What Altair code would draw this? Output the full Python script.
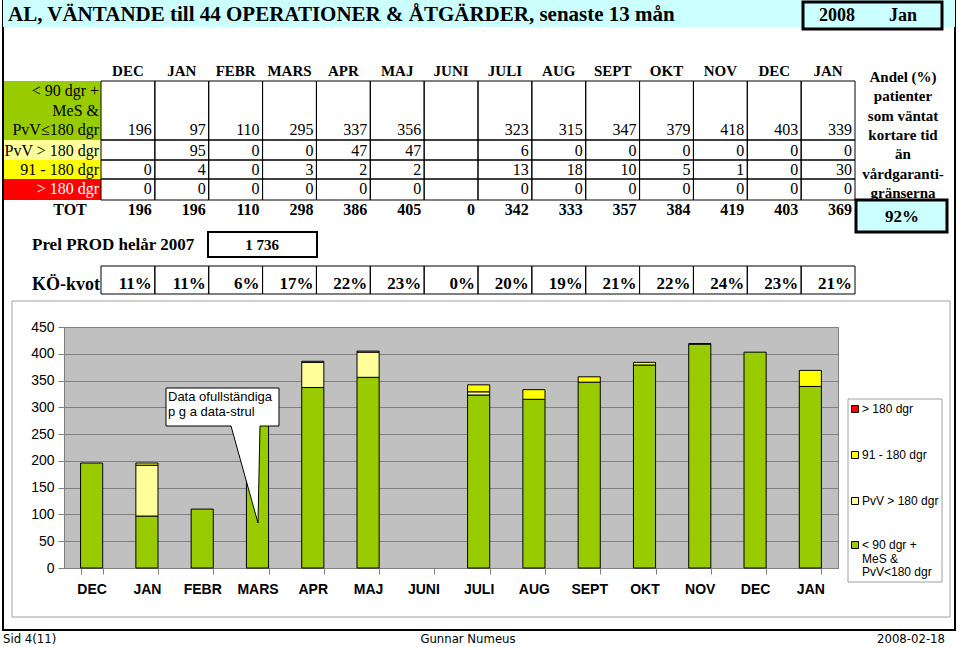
import altair as alt
import pandas as pd

# ---------------- data ----------------
months = ["DEC", "JAN", "FEBR", "MARS", "APR", "MAJ", "JUNI",
          "JULI", "AUG", "SEPT", "OKT", "NOV", "DEC", "JAN"]
# None = empty cell in the table
lt90 = [196, 97, 110, 295, 337, 356, None, 323, 315, 347, 379, 418, 403, 339]
pvv180 = [None, 95, 0, 0, 47, 47, None, 6, 0, 0, 0, 0, 0, 0]
d91_180 = [0, 4, 0, 3, 2, 2, None, 13, 18, 10, 5, 1, 0, 30]
gt180 = [0, 0, 0, 0, 0, 0, None, 0, 0, 0, 0, 0, 0, 0]
tot = [196, 196, 110, 298, 386, 405, 0, 342, 333, 357, 384, 419, 403, 369]
kvot = [11, 11, 6, 17, 22, 23, 0, 20, 19, 21, 22, 24, 23, 21]
prod_2007 = "1 736"
andel = "92%"

series_names = ["< 90 dgr + MeS & PvV<180 dgr", "PvV > 180 dgr", "91 - 180 dgr", "> 180 dgr"]
series_vals = [lt90, pvv180, d91_180, gt180]
series_colors = ["#99CC00", "#FFFF99", "#FFFF00", "#FF0000"]
CYAN = "#CCFFFF"

SERIF = "Liberation Serif, Times New Roman, serif"
SANS = "Liberation Sans, Arial, sans-serif"
NARROW = "Liberation Sans Narrow, DejaVu Sans Condensed, Liberation Sans, sans-serif"

# ---------------- layout ----------------
OX, OY = 64, 327
PW, PH = 774, 241
ONE = pd.DataFrame({"k": [0]})


def vx(x):
    return alt.value(x - OX)


def vy(y):
    return alt.value(y - OY)


def txt(s, x, y, size, weight="normal", font=SERIF, align="left", color="black", lh=None):
    kw = dict(text=s, align=align, baseline="alphabetic", fontSize=size,
              fontWeight=weight, font=font, color=color)
    if lh:
        kw["lineHeight"] = lh
    return alt.Chart(ONE).mark_text(**kw).encode(x=vx(x), y=vy(y))


def box(x0, y0, x1, y1, fill="white", fop=1, stroke="black", sw=1, sop=1):
    return alt.Chart(ONE).mark_rect(fill=fill, fillOpacity=fop, stroke=stroke,
                                    strokeWidth=sw, strokeOpacity=sop).encode(
        x=vx(x0), x2=vx(x1), y=vy(y0), y2=vy(y1))


COLS = alt.Scale(domain=[0, 14], range=[101 - OX, 855 - OX], nice=False, zero=False)
idx = list(range(14))


def cells(y0, y1, sw=1):
    d = pd.DataFrame({"i": idx, "i1": [i + 1 for i in idx]})
    return alt.Chart(d).mark_rect(fill="white", fillOpacity=0, stroke="black", strokeWidth=sw).encode(
        x=alt.X("i:Q", scale=COLS, axis=None), x2="i1:Q", y=vy(y0), y2=vy(y1))


def rowtext(strings, base, size=16, weight="normal"):
    d = pd.DataFrame({"i1": [i + 1 for i in idx], "t": strings})
    d = d[d["t"] != ""]
    return alt.Chart(d).mark_text(align="right", baseline="alphabetic", dx=-3, fontSize=size,
                                  fontWeight=weight, font=SERIF, color="black").encode(
        x=alt.X("i1:Q", scale=COLS, axis=None), y=vy(base), text="t:N")


def fmt(v):
    return "" if v is None else str(v)


layers = []

# page + frames
layers.append(box(12, 301, 950, 617, fop=0, stroke="#A0A0A0", sw=1))
layers.append(box(3, -3, 955, 630, fop=0, stroke="black", sw=2))

# title band
layers.append(box(3, 0, 955, 27, fill=CYAN, stroke=CYAN, sw=0))
layers.append(txt("AL, VÄNTANDE till  44 OPERATIONER & ÅTGÄRDER, senaste 13 mån", 8, 21, 21, "bold"))
layers.append(box(803, 2, 942, 29, fill=CYAN, stroke="black", sw=3))
layers.append(txt("2008", 837, 21, 18, "bold", align="center"))
layers.append(txt("Jan", 903, 21, 18, "bold", align="center"))

# header
hd = pd.DataFrame({"c": [i + 0.5 for i in idx], "m": months})
layers.append(alt.Chart(hd).mark_text(align="center", baseline="alphabetic", fontSize=15,
                                      fontWeight="bold", font=SERIF, color="black").encode(
    x=alt.X("c:Q", scale=COLS, axis=None), y=vy(76), text="m:N"))

# label cells
row_bounds = [(81, 140), (140, 160), (160, 179), (179, 200)]
for (y0, y1), col in zip(row_bounds, series_colors):
    layers.append(box(4, y0, 101, y1, fill=col, stroke=col, sw=0))
layers.append(txt(["< 90 dgr +", "MeS &", "PvV≤180 dgr"], 99, 96, 16, align="right", lh=19.5))
layers.append(txt("PvV > 180 dgr", 99, 156, 16, align="right"))
layers.append(txt("91 - 180 dgr", 99, 175, 16, align="right"))
layers.append(txt("> 180 dgr", 99, 194, 16, align="right", color="white"))

bases = [135, 156, 175, 194]
for (y0, y1), vals, b in zip(row_bounds, series_vals, bases):
    layers.append(cells(y0, y1))
    layers.append(rowtext([fmt(v) for v in vals], b))

# TOT
layers.append(txt("TOT", 70, 215, 16, "bold", align="center"))
layers.append(rowtext([str(v) for v in tot], 215, 16, "bold"))

# Prel PROD
layers.append(txt("Prel PROD helår 2007", 32, 250, 17, "bold"))
layers.append(box(208, 232, 317, 257, fop=0, stroke="black", sw=2))
layers.append(txt(prod_2007, 262, 250, 15, "bold", align="center"))

# KÖ-kvot
layers.append(txt("KÖ-kvot", 32, 290, 18, "bold"))
layers.append(cells(266, 294))
layers.append(rowtext([f"{v}%" for v in kvot], 289, 17, "bold"))

# right panel
layers.append(txt(["Andel (%)", "patienter", "som väntat", "kortare tid", "än",
                   "vårdgaranti-", "gränserna"], 903, 82, 15, "bold", align="center", lh=19.3))
layers.append(box(856, 200, 947, 232, fill=CYAN, stroke="black", sw=3))
layers.append(txt(andel, 902, 222, 17, "bold", align="center"))

# ---------------- bar chart ----------------
keys = [f"{m}|{i}" for i, m in enumerate(months)]
rows = []
for s, (name, vals) in enumerate(zip(series_names, series_vals)):
    for i, v in enumerate(vals):
        if v:
            rows.append({"key": keys[i], "series": name, "value": v, "ord": s})
bar_df = pd.DataFrame(rows)

bars = alt.Chart(bar_df).mark_bar(stroke="black", strokeWidth=1).encode(
    x=alt.X("key:N", sort=keys,
            scale=alt.Scale(domain=keys, paddingInner=0.6, paddingOuter=0.3),
            axis=alt.Axis(title=None,
                          labelExpr="isValid(datum.value) ? split(datum.value,'|')[0] : ''",
                          labelFont=SANS,
                          labelFontSize=14, labelFontWeight="bold", labelColor="black",
                          labelAngle=0, tickBand="extent", tickColor="#808080", tickSize=6,
                          domainColor="#808080", labelPadding=8, grid=False)),
    y=alt.Y("value:Q", stack="zero", scale=alt.Scale(domain=[0, 450], nice=False),
            axis=alt.Axis(title=None, values=list(range(0, 451, 50)), grid=True,
                          gridColor="#808080", labelFont=SANS, labelFontSize=14,
                          labelColor="black", tickColor="#808080", domainColor="#808080",
                          tickSize=6, labelPadding=4)),
    color=alt.Color("series:N", scale=alt.Scale(domain=series_names, range=series_colors),
                    legend=None),
    order=alt.Order("ord:Q", sort="ascending"),
)

# callout
cx, cy, half = 222.5, 455.5, 67.5


def u(px):
    return round((px - cx) / half, 4)


def v(py):
    return round((py - cy) / half, 4)


callout_path = (f"M{u(166)},{v(388)} L{u(279)},{v(388)} L{u(279)},{v(426)} "
                f"L{u(260)},{v(426)} L{u(258)},{v(523)} L{u(231)},{v(426)} "
                f"L{u(166)},{v(426)} Z")
callout = alt.Chart(ONE).mark_point(shape=callout_path, size=(2 * half) ** 2, filled=True,
                                    fill="white", stroke="black", strokeWidth=1,
                                    opacity=1, fillOpacity=1).encode(x=vx(cx), y=vy(cy))
callout_txt = txt(["Data ofullständiga", "p g a data-strul"], 168, 401, 13, font=SANS, lh=15)

# legend
leg = [box(848, 399, 942, 582, fill="white", stroke="#A0A0A0", sw=1)]
leg_items = [(3, 409, ["> 180 dgr"]), (2, 455, ["91 - 180 dgr"]), (1, 501, ["PvV > 180 dgr"]),
             (0, 545, ["< 90 dgr +", "MeS &", "PvV<180 dgr"])]
for s, yc, lines in leg_items:
    leg.append(alt.Chart(ONE).mark_point(shape="square", size=49, filled=True,
                                         fill=series_colors[s], stroke="black", strokeWidth=1,
                                         opacity=1).encode(x=vx(855), y=vy(yc)))
    leg.append(txt(lines if len(lines) > 1 else lines[0], 862, yc + 4, 12, font=SANS, lh=13.5))

# footer
foot = [txt("Sid 4(11)", 3, 643, 13, font=NARROW),
        txt("Gunnar Numeus", 468, 643, 13, font=NARROW, align="center"),
        txt("2008-02-18", 945, 643, 13, font=NARROW, align="right")]

chart = alt.layer(bars, *layers, callout, callout_txt, *leg, *foot).resolve_scale(
    x="independent"
).properties(
    width=PW, height=PH,
    autosize=alt.AutoSizeParams(type="none"),
    padding={"left": OX, "top": OY, "right": 959 - OX - PW, "bottom": 647 - OY - PH},
    background="white",
).configure_view(fill="#C0C0C0", stroke="#808080", strokeWidth=1)

chart.save("out.html", embed_options={"renderer": "svg", "actions": False})
